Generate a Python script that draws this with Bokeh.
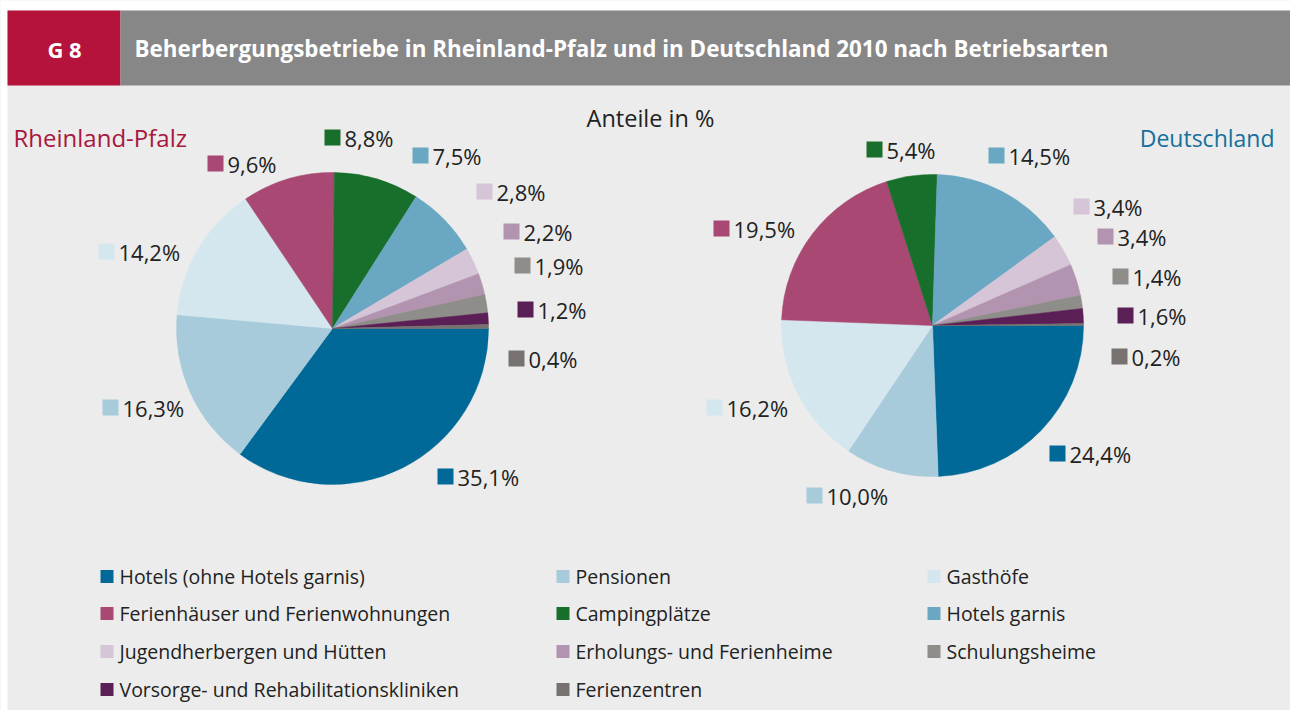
import math
from bokeh.plotting import figure
from bokeh.models import Range1d
from bokeh.core.properties import value
from bokeh.embed import file_html
from bokeh.resources import INLINE

# ---------------- data ----------------
categories = [
    "Hotels (ohne Hotels garnis)", "Pensionen", "Gasthöfe",
    "Ferienhäuser und Ferienwohnungen", "Campingplätze", "Hotels garnis",
    "Jugendherbergen und Hütten", "Erholungs- und Ferienheime", "Schulungsheime",
    "Vorsorge- und Rehabilitationskliniken", "Ferienzentren",
]
rlp_values = [35.1, 16.3, 14.2, 9.6, 8.8, 7.5, 2.8, 2.2, 1.9, 1.2, 0.4]
de_values = [24.4, 10.0, 16.2, 19.5, 5.4, 14.5, 3.4, 3.4, 1.4, 1.6, 0.2]
colors = ["#006998", "#a7cbdb", "#d5e7ee", "#a84873", "#186f2c", "#6aa7c3",
          "#d6c4d7", "#b394b0", "#8f8d89", "#5a1f55", "#77726f"]

title = "Beherbergungsbetriebe in Rheinland-Pfalz und in Deutschland 2010 nach Betriebsarten"
chart_no = "G 8"
subtitle = "Anteile in %"
left_name = "Rheinland-Pfalz"
right_name = "Deutschland"

# ---------------- layout (page pixels) ----------------
W, H = 1290, 710
X0, Y0 = 0, 0
FONT = "Open Sans"
TXT = "#222222"

def Y(py):
    return (Y0 + H) - py

p = figure(width=W, height=H, x_range=Range1d(X0, X0 + W), y_range=Range1d(0, H),
           output_backend="svg", toolbar_location=None, min_border=0)
p.axis.visible = False
p.grid.visible = False
p.outline_line_color = None
p.background_fill_color = "#ebeceb"
p.border_fill_color = "#ffffff"

# white margins around panel
p.quad(left=[X0], right=[X0 + W], top=[Y(0)], bottom=[Y(10)], color="#ffffff", line_color=None)
p.quad(left=[X0], right=[7], top=[Y(0)], bottom=[Y(H)], color="#ffffff", line_color=None)
# header
p.quad(left=[7], right=[120], top=[Y(10)], bottom=[Y(85)], color="#b5133b", line_color=None)
p.quad(left=[120], right=[X0 + W], top=[Y(10)], bottom=[Y(85)], color="#878788", line_color=None)
p.text(x=[64], y=[Y(48)], text=[chart_no], text_font=value(FONT), text_font_style="bold",
       text_font_size="22px", text_color="#ffffff", text_align="center", text_baseline="middle")
p.text(x=[134], y=[Y(48)], text=[title], text_font=value(FONT), text_font_style="bold",
       text_font_size="22.4px", text_color="#ffffff", text_align="left", text_baseline="middle")

p.text(x=[650], y=[Y(117)], text=[subtitle], text_font=value(FONT), text_font_size="23.5px",
       text_color=TXT, text_align="center", text_baseline="middle")
p.text(x=[13], y=[Y(137)], text=[left_name], text_font=value(FONT), text_font_size="24px",
       text_color="#a8173f", text_align="left", text_baseline="middle")
p.text(x=[1274], y=[Y(137)], text=[right_name], text_font=value(FONT), text_font_size="23px",
       text_color="#15709c", text_align="right", text_baseline="middle")

# pies
def pie(vals, cx, cy, r):
    total = sum(vals)
    cum = 0.0
    starts, ends = [], []
    for v in vals:
        a0 = cum / total * 2 * math.pi
        cum += v
        a1 = cum / total * 2 * math.pi
        starts.append(-a1)
        ends.append(-a0)
    p.wedge(x=[cx] * len(vals), y=[Y(cy)] * len(vals), radius=r, start_angle=starts,
            end_angle=ends, fill_color=colors, line_color=colors, line_width=0.5)

pie(rlp_values, 332, 328, 156)
pie(de_values, 932, 325, 151)

# value labels: (square left x, center y) per category, page pixels
rlp_label_pos = [(437, 476), (102, 407), (98, 251), (207, 163), (324, 137), (412, 155),
                 (476, 191), (503, 231), (514, 265), (517, 309), (508, 358)]
de_label_pos = [(1049, 453), (806, 495), (706, 407), (713, 228), (866, 149), (988, 155),
                (1073, 206), (1097, 236), (1112, 276), (1117, 315), (1111, 356)]

def fmt(v):
    return ("%.1f%%" % v).replace(".", ",")

def value_labels(vals, pos):
    SQ = 16
    p.quad(left=[q[0] for q in pos], right=[q[0] + SQ for q in pos],
           top=[Y(q[1] - SQ / 2) for q in pos], bottom=[Y(q[1] + SQ / 2) for q in pos],
           color=colors, line_color=None)
    p.text(x=[q[0] + SQ + 4 for q in pos], y=[Y(q[1]) for q in pos], text=[fmt(v) for v in vals],
           text_font=value(FONT), text_font_size="22px", text_color=TXT,
           text_align="left", text_baseline="middle")

value_labels(rlp_values, rlp_label_pos)
value_labels(de_values, de_label_pos)

# legend
col_x = [100, 556, 927]
row_y = [576, 613, 651, 689]
LS = 13
lx, ly = [], []
for i in range(len(categories)):
    lx.append(col_x[i % 3])
    ly.append(row_y[i // 3])
p.quad(left=lx, right=[x + LS for x in lx], top=[Y(y - LS / 2) for y in ly],
       bottom=[Y(y + LS / 2) for y in ly], color=colors, line_color=None)
p.text(x=[x + LS + 6 for x in lx], y=[Y(y) for y in ly], text=categories,
       text_font=value(FONT), text_font_size="19.5px", text_color=TXT,
       text_align="left", text_baseline="middle")

open("out.html", "w").write(file_html(p, INLINE))
